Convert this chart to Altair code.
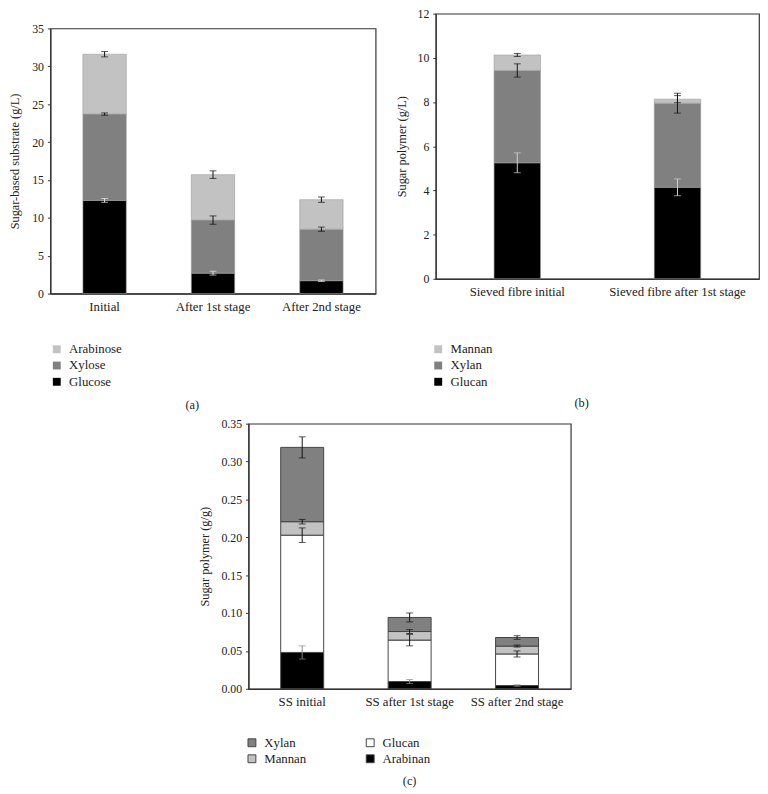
import altair as alt
import pandas as pd

FONT = "Liberation Serif"

# ---------------- Panel (a) ----------------
a_categories = ["Initial", "After 1st stage", "After 2nd stage"]
a_series = ["Glucose", "Xylose", "Arabinose"]          # stacking order, bottom -> top
a_legend = ["Arabinose", "Xylose", "Glucose"]          # legend order
a_glucose = [12.3, 2.7, 1.7]
a_xylose = [11.4, 7.0, 6.8]
a_arabinose = [7.9, 6.0, 3.9]
a_glucose_err = [0.25, 0.25, 0.1]
a_xylose_err = [0.15, 0.55, 0.28]
a_arabinose_err = [0.35, 0.5, 0.35]

# ---------------- Panel (b) ----------------
b_categories = ["Sieved fibre initial", "Sieved fibre after 1st stage"]
b_series = ["Glucan", "Xylan", "Mannan"]
b_legend = ["Mannan", "Xylan", "Glucan"]
b_glucan = [5.25, 4.14]
b_xylan = [4.18, 3.81]
b_mannan = [0.70, 0.18]
b_glucan_err = [0.45, 0.38]
b_xylan_err = [0.30, 0.45]
b_mannan_err = [0.07, 0.16]

# ---------------- Panel (c) ----------------
c_categories = ["SS initial", "SS after 1st stage", "SS after 2nd stage"]
c_series = ["Arabinan", "Glucan", "Mannan", "Xylan"]
c_legend = ["Xylan", "Mannan", "Glucan", "Arabinan"]   # filled column by column
c_arabinan = [0.048, 0.0096, 0.0043]
c_glucan = [0.1548, 0.0547, 0.0417]
c_mannan = [0.0178, 0.0113, 0.0104]
c_xylan = [0.0981, 0.0186, 0.0113]
c_arabinan_err = [0.0087, 0.0026, 0.001]
c_glucan_err = [0.0096, 0.0076, 0.004]
c_mannan_err = [0.003, 0.0026, 0.0013]
c_xylan_err = [0.0139, 0.0059, 0.0024]


def build_df(categories, series, values, errors, err_colors):
    rows = []
    for i, cat in enumerate(categories):
        top = 0.0
        for k, s in enumerate(series):
            v = values[k][i]
            top += v
            e = errors[k][i]
            rows.append(dict(cat=cat, series=s, value=v, order=k, top=top,
                             lo=top - e, hi=top + e, ecol=err_colors[k]))
    return pd.DataFrame(rows)


def panel(df, categories, legend_order, colors, ymax, yvalues, yfmt, ytitle,
          width, height, pi, po, bar_stroke, bar_stroke_w, legend, label,
          title_dx, title_offset, title_pad):
    x = alt.X("cat:N", sort=categories, title=None,
              scale=alt.Scale(paddingInner=pi, paddingOuter=po),
              axis=alt.Axis(labelAngle=0, ticks=False, labelPadding=7,
                            labelFontSize=13))
    y_scale = alt.Scale(domain=[0, ymax], nice=False, zero=True)
    y_axis = alt.Axis(values=yvalues, format=yfmt, title=ytitle,
                      tickCount=len(yvalues), labelOverlap=False,
                      tickSize=3, labelPadding=4, labelFontSize=12,
                      titleFontSize=12.5, titlePadding=title_pad)
    bars = alt.Chart(df).mark_bar(stroke=bar_stroke, strokeWidth=bar_stroke_w).encode(
        x=x,
        y=alt.Y("value:Q", stack="zero", scale=y_scale, axis=y_axis),
        color=alt.Color("series:N",
                        scale=alt.Scale(domain=legend_order, range=colors),
                        legend=legend),
        order=alt.Order("order:Q", sort="ascending"),
    )
    rules = alt.Chart(df).mark_rule(strokeWidth=1).encode(
        x=alt.X("cat:N", sort=categories),
        y=alt.Y("lo:Q", scale=y_scale, axis=y_axis),
        y2="hi:Q",
        stroke=alt.Stroke("ecol:N", scale=None),
    )
    caps_lo = alt.Chart(df).mark_tick(size=7, thickness=1).encode(
        x=alt.X("cat:N", sort=categories),
        y=alt.Y("lo:Q", scale=y_scale, axis=y_axis),
        fill=alt.Fill("ecol:N", scale=None),
    )
    caps_hi = alt.Chart(df).mark_tick(size=7, thickness=1).encode(
        x=alt.X("cat:N", sort=categories),
        y=alt.Y("hi:Q", scale=y_scale, axis=y_axis),
        fill=alt.Fill("ecol:N", scale=None),
    )
    return alt.layer(bars, rules, caps_lo, caps_hi).properties(
        width=width, height=height,
        title=alt.TitleParams(label, orient="bottom", anchor="middle",
                              font=FONT, fontSize=12.5, fontWeight="normal",
                              color="#222", dx=title_dx, offset=title_offset),
    )


df_a = build_df(a_categories, a_series, [a_glucose, a_xylose, a_arabinose],
                [a_glucose_err, a_xylose_err, a_arabinose_err],
                ["#e6e6e6", "#111111", "#111111"])
df_b = build_df(b_categories, b_series, [b_glucan, b_xylan, b_mannan],
                [b_glucan_err, b_xylan_err, b_mannan_err],
                ["#d0d0d0", "#111111", "#111111"])
df_c = build_df(c_categories, c_series, [c_arabinan, c_glucan, c_mannan, c_xylan],
                [c_arabinan_err, c_glucan_err, c_mannan_err, c_xylan_err],
                ["#888888", "#111111", "#111111", "#111111"])

HATCH = "#c2c2c2"
GREY = "#808080"

legend_common = dict(title=None, orient="none", symbolType="square",
                     symbolSize=64, labelFont=FONT, labelFontSize=13,
                     labelColor="#222", labelOffset=6, rowPadding=2.5)

chart_a = panel(
    df_a, a_categories, a_legend, [HATCH, GREY, "#000000"],
    35, [0, 5, 10, 15, 20, 25, 30, 35], "d", "Sugar-based substrate (g/L)",
    330, 269, 0.6, 0.3, "#9a9a9a", 0.6,
    alt.Legend(legendX=0, legendY=319, symbolStrokeWidth=0, **legend_common),
    "(a)", -21, 10, 10,
)

chart_b = panel(
    df_b, b_categories, b_legend, [HATCH, GREY, "#000000"],
    12, [0, 2, 4, 6, 8, 10, 12], "d", "Sugar polymer (g/L)",
    328, 269, 0.71, 0.364, "#9a9a9a", 0.6,
    alt.Legend(legendX=-4, legendY=334, symbolStrokeWidth=0, **legend_common),
    "(b)", -16, 8, 9,
)

chart_c = panel(
    df_c, c_categories, c_legend, [GREY, HATCH, "#ffffff", "#000000"],
    0.35, [0, 0.05, 0.1, 0.15, 0.2, 0.25, 0.3, 0.35], ".2f", "Sugar polymer (g/g)",
    327, 269, 0.6, 0.3, "#444444", 1,
    alt.Legend(legendX=-3, legendY=317, columns=2, columnPadding=58,
               symbolStrokeColor="#444444", symbolStrokeWidth=1, **legend_common),
    "(c)", 0, 10, 10,
)


def spacer(w, h):
    return alt.Chart(pd.DataFrame({"t": [""]})).mark_text(fontSize=1).encode(
        text="t:N", x=alt.value(w / 2), y=alt.value(h / 2)
    ).properties(width=w, height=h, view=alt.ViewBackground(stroke="transparent"))


left_col = alt.vconcat(spacer(330, 7), chart_a, spacing=0).resolve_scale(color="independent")
top_row = alt.hconcat(left_col, chart_b, spacing=18).resolve_scale(color="independent")
bottom_row = alt.hconcat(spacer(148, 10), chart_c, spacing=0).resolve_scale(color="independent")

chart = alt.vconcat(top_row, bottom_row, spacing=4).resolve_scale(
    color="independent"
).properties(
    padding={"left": 0, "top": -7, "right": 0, "bottom": 0}
).configure_view(
    stroke="#333333", strokeWidth=1.2
).configure_axis(
    domainColor="#333333", domainWidth=1.2, tickColor="#333333", grid=False,
    labelFont=FONT, titleFont=FONT, titleFontWeight="normal",
    labelColor="#222", titleColor="#222",
)

chart.save("out.html", embed_options={"renderer": "svg", "actions": False})
